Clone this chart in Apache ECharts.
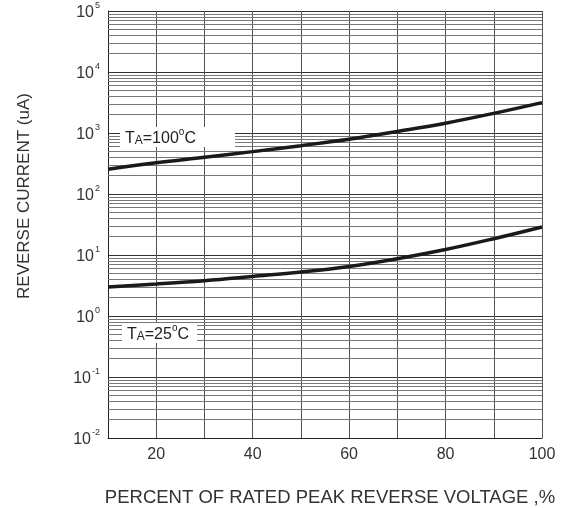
<!DOCTYPE html>
<html>
<head>
<meta charset="utf-8">
<script src="https://cdn.jsdelivr.net/npm/echarts@6/dist/echarts.min.js"></script>
<style>html,body{margin:0;padding:0;background:#fff}#c{width:571px;height:508px}</style>
</head>
<body>
<div id="c"></div>
<script>
// Data
var voltagePct = [10, 20, 30, 40, 50, 60, 70, 80, 90, 100];
var current100C = [255, 325, 400, 495, 620, 790, 1060, 1450, 2100, 3150];
var current25C = [3.0, 3.35, 3.8, 4.45, 5.25, 6.5, 8.7, 12.3, 18.5, 28.8];
var xTickLabels = [20, 40, 60, 80, 100];
var yDecades = [-2, -1, 0, 1, 2, 3, 4, 5];

// minor log gridlines (2..9 x 10^d)
var minorLines = [];
for (var d = -2; d < 5; d++) {
  for (var k = 2; k <= 9; k++) minorLines.push({ yAxis: k * Math.pow(10, d) });
}

var chart = echarts.init(document.getElementById('c'));
var txt = '#333';
var ff = 'Liberation Sans';
function legendRich() {
  return {
    n: { fontFamily: ff, fontSize: 16, fill: '#222', lineHeight: 20, verticalAlign: 'bottom' },
    a: { fontFamily: ff, fontSize: 12, fill: '#222', lineHeight: 20, verticalAlign: 'bottom' },
    o: { fontFamily: ff, fontSize: 10, fill: '#222', lineHeight: 20, verticalAlign: 'top' }
  };
}
chart.setOption({
  animation: false,
  grid: { left: 108, right: 29, top: 11, bottom: 70, containLabel: false, outerBoundsMode: 'none' },
  xAxis: {
    type: 'value', min: 10, max: 100, interval: 10,
    axisLine: { lineStyle: { color: '#222', width: 1 } },
    axisTick: { show: false },
    axisLabel: {
      fontFamily: ff, fontSize: 16, color: txt, margin: 9,
      formatter: function (v) { return xTickLabels.indexOf(v) >= 0 ? String(v) : ''; }
    },
    splitLine: { show: true, lineStyle: { color: '#555', width: 1 } }
  },
  yAxis: {
    type: 'log', logBase: 10, min: 0.01, max: 100000,
    axisLine: { show: true, lineStyle: { color: '#222', width: 1 } },
    axisTick: { show: false },
    axisLabel: {
      margin: 8,
      formatter: function (v) {
        var e = Math.round(Math.log10(v));
        if (yDecades.indexOf(e) < 0) return '';
        return '{b|10}{s|' + e + '}';
      },
      rich: {
        b: { fontFamily: ff, fontSize: 16, color: txt, verticalAlign: 'bottom', lineHeight: 20 },
        s: { fontFamily: ff, fontSize: 9, color: txt, verticalAlign: 'top', lineHeight: 20, padding: [0, 0, 0, 1] }
      }
    },
    splitLine: { show: true, lineStyle: { color: '#333', width: 1 } }
  },
  series: [
    {
      type: 'line', data: [], silent: true,
      markLine: {
        silent: true, symbol: ['none', 'none'], animation: false,
        label: { show: false },
        lineStyle: { color: '#777', width: 1, type: 'solid' },
        data: minorLines
      }
    },
    {
      type: 'line', smooth: 0.4, symbol: 'none', z: 5,
      lineStyle: { color: '#1a1a1a', width: 3.5 },
      data: voltagePct.map(function (x, i) { return [x, current100C[i]]; })
    },
    {
      type: 'line', smooth: 0.4, symbol: 'none', z: 5,
      lineStyle: { color: '#1a1a1a', width: 3.5 },
      data: voltagePct.map(function (x, i) { return [x, current25C[i]]; })
    }
  ],
  graphic: [
    {
      type: 'text', z: 100, x: 24, y: 196, rotation: Math.PI / 2,
      style: { text: 'REVERSE CURRENT (uA)', fontFamily: ff, fontSize: 17, fill: txt, align: 'center', verticalAlign: 'middle' }
    },
    {
      type: 'text', z: 100, x: 330, y: 498,
      style: { text: 'PERCENT OF RATED PEAK REVERSE VOLTAGE ,%', fontFamily: ff, fontSize: 18.5, fill: txt, align: 'center', verticalAlign: 'middle' }
    },
    { type: 'rect', z: 100, shape: { x: 120, y: 127, width: 115, height: 20 }, style: { fill: '#fff' } },
    {
      type: 'text', z: 101, x: 125, y: 127,
      style: { text: '{n|T}{a|A}{n|=100}{o|o}{n|C}', rich: legendRich() }
    },
    { type: 'rect', z: 100, shape: { x: 122, y: 323, width: 75, height: 20 }, style: { fill: '#fff' } },
    {
      type: 'text', z: 101, x: 127, y: 323,
      style: { text: '{n|T}{a|A}{n|=25}{o|o}{n|C}', rich: legendRich() }
    }
  ]
});
</script>
</body>
</html>
